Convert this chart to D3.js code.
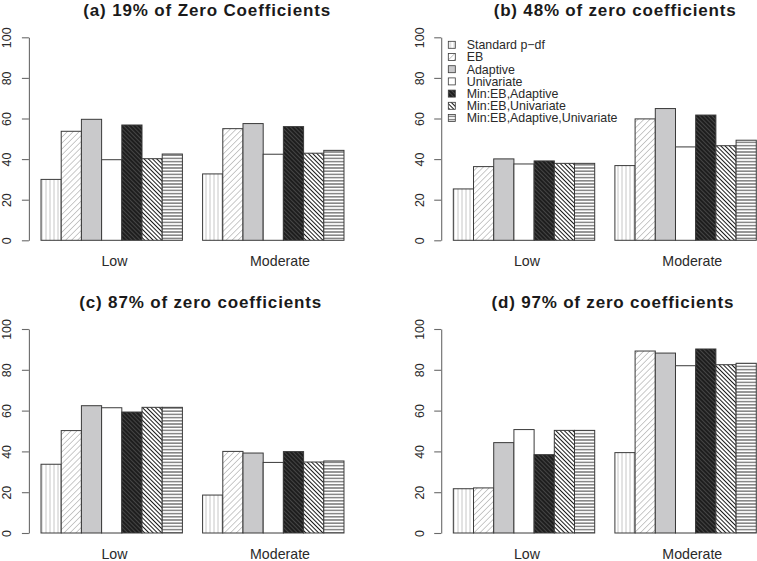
<!DOCTYPE html>
<html>
<head>
<meta charset="utf-8">
<script src="https://cdn.jsdelivr.net/npm/d3@7"></script>
<style>
  html, body { margin: 0; padding: 0; background: #fff; }
  svg { display: block; font-family: "Liberation Sans", Arial, Helvetica, sans-serif; }
</style>
</head>
<body>
<svg id="chart" width="757" height="561"></svg>
<script>
// ---------- data ----------
const categories = ["Low", "Moderate"];
const methods = [
  "Standard p\u2212df", "EB", "Adaptive", "Univariate",
  "Min:EB,Adaptive", "Min:EB,Univariate", "Min:EB,Adaptive,Univariate"
];
const panelTitles = [
  "(a) 19% of Zero Coefficients",
  "(b) 48% of zero coefficients",
  "(c) 87% of zero coefficients",
  "(d) 97% of zero coefficients"
];
const yTicks = [0, 20, 40, 60, 80, 100];

// values per panel: [Low series, Moderate series]
const panelA = [
  [30.0, 53.7, 59.6, 39.7, 56.8, 40.2, 42.5],
  [32.7, 55.0, 57.5, 42.4, 56.0, 42.9, 44.3]
];
const panelB = [
  [25.3, 36.3, 40.1, 37.6, 39.1, 37.9, 37.9],
  [36.8, 59.8, 64.9, 46.0, 61.7, 46.6, 49.3]
];
const panelC = [
  [33.7, 50.2, 62.4, 61.4, 59.3, 61.6, 61.6],
  [18.6, 40.0, 39.2, 34.6, 39.9, 34.8, 35.3]
];
const panelD = [
  [21.7, 22.1, 44.3, 50.7, 38.4, 50.3, 50.3],
  [39.4, 89.2, 88.2, 82.0, 90.2, 82.5, 83.2]
];
const panelData = [panelA, panelB, panelC, panelD];

// ---------- layout ----------
const svg = d3.select("#chart");
const plotW = 327.2;
const layouts = [
  { left: 28.9,  y0: 240.3, y100: 37.3, titleX: 206.7, titleY: 16.0,  titleW: 247, labY: 266.0, labX: [114.5, 280.0] },
  { left: 441.2, y0: 240.3, y100: 37.3, titleX: 614.7, titleY: 16.0,  titleW: 242, labY: 266.0, labX: [527.0, 692.3] },
  { left: 28.9,  y0: 533.0, y100: 329.0, titleX: 200.2, titleY: 307.7, titleW: 242, labY: 558.5, labX: [114.5, 280.0] },
  { left: 441.2, y0: 533.0, y100: 329.0, titleX: 612.5, titleY: 307.7, titleW: 242, labY: 558.5, labX: [527.0, 692.3] }
];

// ---------- patterns ----------
const defs = svg.append("defs");
function linePattern(id, bg, stroke, spacing, angle, sw) {
  const p = defs.append("pattern")
    .attr("id", id)
    .attr("patternUnits", "userSpaceOnUse")
    .attr("width", spacing).attr("height", spacing)
    .attr("patternTransform", `rotate(${angle})`);
  p.append("rect").attr("width", spacing).attr("height", spacing).attr("fill", bg);
  p.append("line")
    .attr("x1", spacing / 2).attr("y1", 0)
    .attr("x2", spacing / 2).attr("y2", spacing)
    .attr("stroke", stroke).attr("stroke-width", sw);
}
linePattern("p0", "#ffffff", "#b8b8b8", 4.0, 0, 0.8);    // vertical
linePattern("p1", "#ffffff", "#bdbdbd", 4.2, 45, 0.8);   // "/"
linePattern("p4", "#1e1e1e", "#4a4a4a", 3.0, -45, 0.9);  // dark with "\"
linePattern("p5", "#ffffff", "#1a1a1a", 3.0, -45, 1.0);  // "\"
linePattern("p6", "#ffffff", "#2a2a2a", 3.2, 90, 0.9);   // horizontal

const fills = ["url(#p0)", "url(#p1)", "#c9c9cb", "#ffffff", "url(#p4)", "url(#p5)", "url(#p6)"];

// ---------- panels ----------
panelData.forEach((pd, pi) => {
  const L = layouts[pi];
  const g = svg.append("g");

  const x = d3.scaleLinear().domain([0.4, 16.6]).range([L.left, L.left + plotW]);
  const y = d3.scaleLinear().domain([0, 100]).range([L.y0, L.y100]);

  // bars
  const bars = [];
  pd.forEach((series, gi) => {
    series.forEach((v, bi) => bars.push({ gi, bi, v }));
  });
  g.selectAll("rect.bar").data(bars).join("rect")
    .attr("class", "bar")
    .attr("x", d => x(1 + d.gi * 8 + d.bi))
    .attr("width", d => x(2 + d.gi * 8 + d.bi) - x(1 + d.gi * 8 + d.bi))
    .attr("y", d => y(d.v))
    .attr("height", d => y(0) - y(d.v))
    .attr("fill", d => fills[d.bi])
    .attr("stroke", "#3a3a3a")
    .attr("stroke-width", 1);

  // y axis
  const ax = g.append("g")
    .attr("transform", `translate(${L.left},0)`)
    .call(d3.axisLeft(y).tickValues(yTicks).tickSize(7).tickSizeOuter(0).tickFormat(d3.format("d")));
  ax.select(".domain").attr("stroke", "#6a6a6a").attr("stroke-width", 1.1);
  ax.selectAll(".tick line").attr("stroke", "#6a6a6a").attr("stroke-width", 1.1);
  ax.selectAll(".tick text")
    .attr("x", 0).attr("dy", 0)
    .attr("text-anchor", "middle")
    .attr("transform", "translate(-17.5,0) rotate(-90)")
    .attr("font-size", 12.4)
    .attr("font-family", "Liberation Sans, Arial, sans-serif")
    .attr("fill", "#2a2a2a");

  // category labels
  g.selectAll("text.cat").data(categories).join("text")
    .attr("class", "cat")
    .attr("x", (d, i) => L.labX[i])
    .attr("y", L.labY)
    .attr("text-anchor", "middle")
    .attr("font-size", 14.2)
    .attr("fill", "#2a2a2a")
    .text(d => d);

  // title
  g.append("text")
    .attr("x", L.titleX)
    .attr("y", L.titleY)
    .attr("text-anchor", "middle")
    .attr("font-size", 17)
    .attr("font-weight", "bold")
    .attr("fill", "#1a1a1a")
    .attr("textLength", L.titleW)
    .attr("lengthAdjust", "spacing")
    .text(panelTitles[pi]);
});

// ---------- legend (panel b) ----------
const leg = svg.append("g");
const legX = 448.3, legY0 = 44.8, legStep = 12.2;
const rows = leg.selectAll("g.row").data(methods).join("g")
  .attr("class", "row")
  .attr("transform", (d, i) => `translate(${legX},${legY0 + i * legStep})`);
rows.append("rect")
  .attr("x", 0).attr("y", -3.5)
  .attr("width", 7).attr("height", 7)
  .attr("fill", (d, i) => fills[i])
  .attr("stroke", "#3a3a3a").attr("stroke-width", 0.8);
rows.append("text")
  .attr("x", 18.4).attr("y", 4.4)
  .attr("font-size", 12.4)
  .attr("fill", "#2a2a2a")
  .text(d => d);
</script>
</body>
</html>
